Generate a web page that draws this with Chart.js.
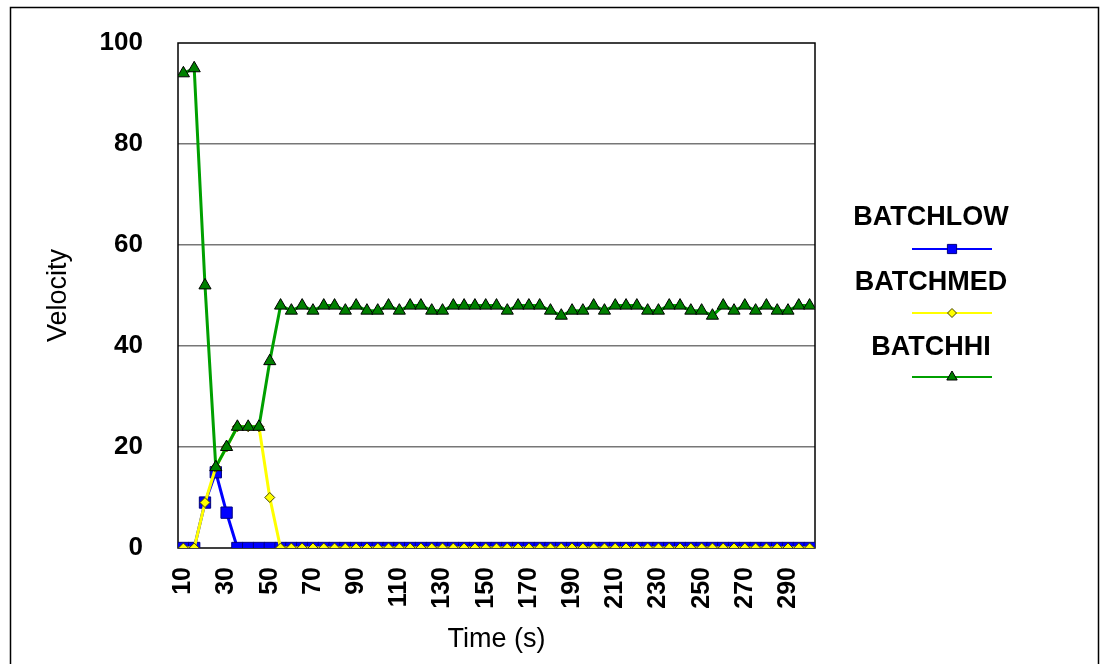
<!DOCTYPE html>
<html>
<head>
<meta charset="utf-8">
<script src="https://cdn.jsdelivr.net/npm/chart.js@4/dist/chart.umd.min.js"></script>
<style>
  html, body { margin: 0; padding: 0; background: #ffffff; }
  #wrap { position: relative; width: 1101px; height: 664px; }
</style>
</head>
<body>
<div id="wrap"><canvas id="chart" width="1101" height="664"></canvas></div>
<script>
// Sample times (s), one every 5 seconds
const times = [10, 15, 20, 25, 30, 35, 40, 45, 50, 55,
               60, 65, 70, 75, 80, 85, 90, 95, 100, 105,
               110, 115, 120, 125, 130, 135, 140, 145, 150, 155,
               160, 165, 170, 175, 180, 185, 190, 195, 200, 205,
               210, 215, 220, 225, 230, 235, 240, 245, 250, 255,
               260, 265, 270, 275, 280, 285, 290, 295, 300];

// Labels printed on the time axis
const timeTickLabels = ['10', '30', '50', '70', '90', '110', '130', '150', '170',
                        '190', '210', '230', '250', '270', '290'];

const velocityTicks = [0, 20, 40, 60, 80, 100];

const batchLow = [0, 0, 9, 15, 7, 0, 0, 0, 0, 0,
                  0, 0, 0, 0, 0, 0, 0, 0, 0, 0,
                  0, 0, 0, 0, 0, 0, 0, 0, 0, 0,
                  0, 0, 0, 0, 0, 0, 0, 0, 0, 0,
                  0, 0, 0, 0, 0, 0, 0, 0, 0, 0,
                  0, 0, 0, 0, 0, 0, 0, 0, 0];

const batchMed = [0, 0, 9, 16, 20, 24, 24, 24, 10, 0,
                  0, 0, 0, 0, 0, 0, 0, 0, 0, 0,
                  0, 0, 0, 0, 0, 0, 0, 0, 0, 0,
                  0, 0, 0, 0, 0, 0, 0, 0, 0, 0,
                  0, 0, 0, 0, 0, 0, 0, 0, 0, 0,
                  0, 0, 0, 0, 0, 0, 0, 0, 0];

const batchHi = [94, 95, 52, 16, 20, 24, 24, 24, 37, 48,
                 47, 48, 47, 48, 48, 47, 48, 47, 47, 48,
                 47, 48, 48, 47, 47, 48, 48, 48, 48, 48,
                 47, 48, 48, 48, 47, 46, 47, 47, 48, 47,
                 48, 48, 48, 47, 47, 48, 48, 47, 47, 46,
                 48, 47, 48, 47, 48, 47, 47, 48, 48];

const FONT = "'Liberation Sans', Arial, Helvetica, sans-serif";

// Plot area edges in canvas pixels
const AREA = { left: 178, top: 43, right: 815, bottom: 548 };

// Outer frame and plot-area border
const framePlugin = {
  id: 'frame',
  beforeDatasetsDraw(chart) {
    const { ctx, chartArea: a } = chart;
    ctx.save();
    ctx.strokeStyle = '#000000';
    ctx.lineWidth = 1.5;
    ctx.strokeRect(a.left, a.top, a.right - a.left, a.bottom - a.top);
    ctx.restore();
  },
  afterDraw(chart) {
    const { ctx } = chart;
    ctx.save();
    ctx.strokeStyle = '#000000';
    ctx.lineWidth = 1.5;
    ctx.beginPath();
    ctx.moveTo(10.5, 700);
    ctx.lineTo(10.5, 7.5);
    ctx.lineTo(1098.5, 7.5);
    ctx.lineTo(1098.5, 700);
    ctx.stroke();
    ctx.restore();
  }
};

// Legend: centred name with a line sample and marker underneath
const sideLegendPlugin = {
  id: 'sideLegend',
  afterDraw(chart) {
    const { ctx } = chart;
    const textX = 931;
    const lineX0 = 912, lineX1 = 992;
    const rows = [
      { text: 218, line: 249 },
      { text: 283, line: 313 },
      { text: 348, line: 377 }
    ];
    const legendRadius = [6.5, 4.5, 6];
    ctx.save();
    chart.data.datasets.forEach((ds, i) => {
      const r = rows[i];
      ctx.fillStyle = '#000000';
      ctx.font = 'bold 27px ' + FONT;
      ctx.textAlign = 'center';
      ctx.textBaseline = 'middle';
      ctx.fillText(ds.label, textX, r.text);
      ctx.strokeStyle = ds.borderColor;
      ctx.lineWidth = 2;
      ctx.beginPath();
      ctx.moveTo(lineX0, r.line);
      ctx.lineTo(lineX1, r.line);
      ctx.stroke();
      ctx.fillStyle = ds.pointBackgroundColor;
      ctx.strokeStyle = ds.pointBorderColor;
      ctx.lineWidth = 1;
      Chart.helpers.drawPoint(ctx, {
        pointStyle: ds.pointStyle,
        radius: legendRadius[i],
        rotation: 0,
        borderWidth: 1
      }, (lineX0 + lineX1) / 2, r.line);
    });
    ctx.restore();
  }
};

new Chart(document.getElementById('chart'), {
  type: 'line',
  data: {
    labels: times.map(String),
    datasets: [
      {
        label: 'BATCHLOW',
        data: batchLow,
        borderColor: '#0000FF',
        borderWidth: 3,
        pointStyle: 'rect',
        pointRadius: 8,
        pointBackgroundColor: '#0000FF',
        pointBorderColor: '#000080',
        pointBorderWidth: 1,
        order: 3,
        clip: 0
      },
      {
        label: 'BATCHMED',
        data: batchMed,
        borderColor: '#FFFF00',
        borderWidth: 3,
        pointStyle: 'rectRot',
        pointRadius: 5,
        pointBackgroundColor: '#FFFF00',
        pointBorderColor: '#404000',
        pointBorderWidth: 1,
        order: 2,
        clip: 0
      },
      {
        label: 'BATCHHI',
        data: batchHi,
        borderColor: '#00A000',
        borderWidth: 3,
        pointStyle: 'triangle',
        pointRadius: 7,
        pointBackgroundColor: '#008000',
        pointBorderColor: '#000000',
        pointBorderWidth: 1,
        order: 1,
        clip: 0
      }
    ]
  },
  plugins: [framePlugin, sideLegendPlugin],
  options: {
    responsive: false,
    animation: false,
    events: [],
    layout: { padding: { left: 0, top: AREA.top, right: 1101 - AREA.right, bottom: 0 } },
    elements: { line: { tension: 0 } },
    plugins: {
      legend: { display: false },
      tooltip: { enabled: false }
    },
    scales: {
      x: {
        type: 'category',
        offset: true,
        grid: { display: false, drawTicks: false },
        border: { display: false },
        ticks: {
          autoSkip: false,
          minRotation: 90,
          maxRotation: 90,
          padding: 19,
          color: '#000000',
          font: { family: FONT, size: 25, weight: 'bold' },
          callback(value, index) {
            const lbl = this.getLabelForValue(value);
            return timeTickLabels.includes(lbl) && index % 4 === 0 ? lbl : '';
          }
        },
        title: {
          display: true,
          text: 'Time (s)',
          color: '#000000',
          font: { family: FONT, size: 27 },
          padding: { top: 0, bottom: 8 }
        },
        afterFit(scale) {
          scale.height = 664 - AREA.bottom;
          scale.paddingLeft = 0;
          scale.paddingRight = 0;
        }
      },
      y: {
        min: 0,
        max: 100,
        grid: {
          drawTicks: false,
          lineWidth: 1.5,
          color(ctx) {
            const v = ctx.tick && ctx.tick.value;
            return (v === 0 || v === 100) ? 'rgba(0,0,0,0)' : '#777777';
          }
        },
        border: { display: false },
        afterBuildTicks(scale) {
          scale.ticks = velocityTicks.map(v => ({ value: v }));
        },
        ticks: {
          padding: 35,
          color: '#000000',
          font: { family: FONT, size: 26, weight: 'bold' }
        },
        title: {
          display: true,
          text: 'Velocity',
          color: '#000000',
          font: { family: FONT, size: 27 },
          padding: { top: 42, bottom: 0 }
        },
        afterFit(scale) {
          scale.width = AREA.left;
          scale.paddingTop = 0;
          scale.paddingBottom = 0;
        }
      }
    }
  }
});
</script>
</body>
</html>
